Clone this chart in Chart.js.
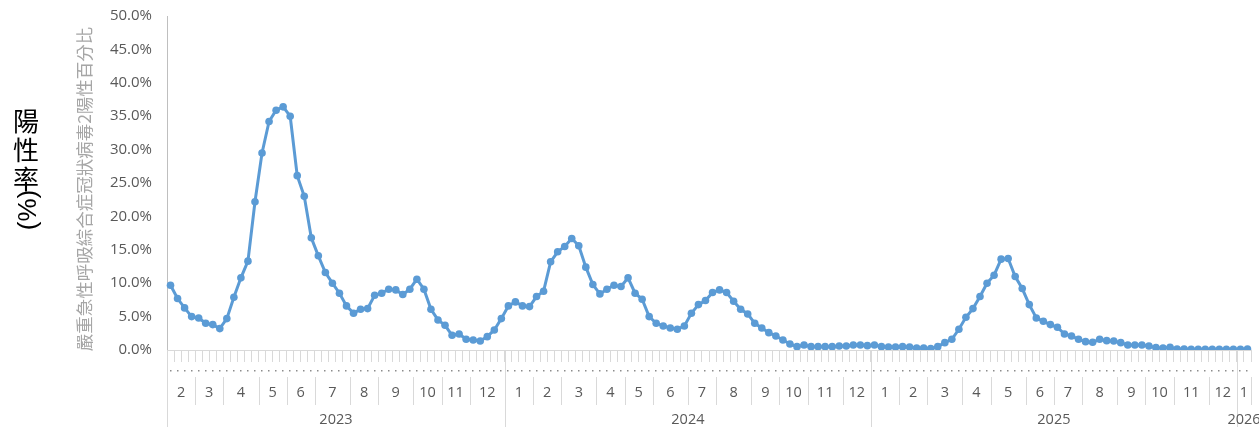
<!DOCTYPE html>
<html>
<head>
<meta charset="utf-8">
<script src="https://cdn.jsdelivr.net/npm/chart.js@4"></script>
<style>
  html, body { margin: 0; padding: 0; background: #fff; }
  #wrap { width: 1259px; height: 427px; }
</style>
</head>
<body>
<div id="wrap"><canvas id="chart" width="1259" height="427"></canvas></div>
<script>
// 月份標籤 / 每月週數 (週結束於星期六)
const monthNames = ['2','3','4','5','6','7','8','9','10','11','12',
                    '1','2','3','4','5','6','7','8','9','10','11','12',
                    '1','2','3','4','5','6','7','8','9','10','11','12',
                    '1'];
const monthWeeks = [4,4,5,4,4,5,4,5,4,4,5,
                    4,4,5,4,4,5,4,5,4,4,5,4,
                    4,4,5,4,5,4,4,5,4,4,5,4,
                    2];
const yearNames = ['2023','2024','2025','2026'];
const yearWeeks = [48, 52, 52, 2];

// 陽性百分比 (%)
const positivity = [
  9.7, 7.7, 6.3, 5.0, 4.8, 4.0, 3.8, 3.2, 4.7, 7.9,
  10.8, 13.3, 22.2, 29.5, 34.2, 35.9, 36.4, 35.0, 26.1, 23.0,
  16.8, 14.1, 11.6, 10.0, 8.5, 6.6, 5.5, 6.1, 6.2, 8.2,
  8.5, 9.1, 9.0, 8.3, 9.1, 10.6, 9.1, 6.1, 4.5, 3.7,
  2.2, 2.4, 1.6, 1.5, 1.35, 2.0, 3.0, 4.7, 6.6, 7.2,
  6.6, 6.5, 8.0, 8.8, 13.2, 14.7, 15.5, 16.7, 15.6, 12.4,
  9.8, 8.4, 9.1, 9.7, 9.5, 10.8, 8.5, 7.6, 5.0, 4.0,
  3.6, 3.3, 3.1, 3.6, 5.5, 6.8, 7.4, 8.6, 9.0, 8.6,
  7.3, 6.1, 5.4, 4.0, 3.3, 2.6, 2.1, 1.5, 0.9, 0.5,
  0.75, 0.5, 0.5, 0.5, 0.5, 0.6, 0.6, 0.75, 0.75, 0.65,
  0.75, 0.5, 0.45, 0.45, 0.5, 0.45, 0.3, 0.3, 0.2, 0.5,
  1.1, 1.6, 3.1, 4.9, 6.2, 8.0, 10.0, 11.2, 13.6, 13.7,
  11.0, 9.2, 6.8, 4.8, 4.3, 3.8, 3.4, 2.4, 2.1, 1.6,
  1.25, 1.15, 1.6, 1.4, 1.35, 1.1, 0.75, 0.75, 0.75, 0.6,
  0.35, 0.3, 0.4, 0.15, 0.15, 0.1, 0.1, 0.1, 0.1, 0.1,
  0.1, 0.1, 0.1, 0.15
];

const yTitle = '嚴重急性呼吸綜合症冠狀病毒2陽性百分比';
const sideTitle = ['陽', '性', '率'];
const sideUnit = '(%)';

// 週類別 (年-月-週序)
const weekLabels = [];
(function () {
  let y = 0, left = yearWeeks[0];
  monthNames.forEach((m, mi) => {
    for (let k = 1; k <= monthWeeks[mi]; k++) {
      weekLabels.push(yearNames[y] + '-' + m + '-' + k);
      left--;
      if (left === 0 && y < yearWeeks.length - 1) { y++; left = yearWeeks[y]; }
    }
  });
})();

const GRAY = '#595959';
const LINE = '#d9d9d9';

// 多層類別軸 (週點、月、年) 與縱軸標題
const axisPlugin = {
  id: 'axisPlugin',
  afterDraw(chart) {
    const ctx = chart.ctx;
    const x = chart.scales.x;
    const bottom = chart.chartArea.bottom;
    const step = x.getPixelForValue(1) - x.getPixelForValue(0);
    const edge = i => x.getPixelForValue(i) - step / 2;

    ctx.save();
    // 週層：每類別一個小點
    ctx.fillStyle = '#8c8c8c';
    weekLabels.forEach((w, i) => {
      ctx.fillRect(Math.round(x.getPixelForValue(i)) - 1, 370, 1.5, 1.5);
    });

    ctx.strokeStyle = LINE;
    ctx.lineWidth = 1;
    ctx.font = '14.5px "Open Sans"';
    ctx.fillStyle = GRAY;
    ctx.textAlign = 'center';
    ctx.textBaseline = 'middle';

    // 月層
    let idx = 0;
    monthNames.forEach((m, mi) => {
      const a = edge(idx), b = edge(idx + monthWeeks[mi]);
      ctx.beginPath();
      ctx.moveTo(Math.round(a) + 0.5, 377);
      ctx.lineTo(Math.round(a) + 0.5, 405);
      ctx.moveTo(Math.round(b) + 0.5, 377);
      ctx.lineTo(Math.round(b) + 0.5, 405);
      ctx.stroke();
      ctx.fillText(m, (a + b) / 2, 393);
      idx += monthWeeks[mi];
    });

    // 年層
    idx = 0;
    yearNames.forEach((yname, yi) => {
      const a = edge(idx), b = edge(idx + yearWeeks[yi]);
      ctx.beginPath();
      ctx.moveTo(Math.round(a) + 0.5, bottom);
      ctx.lineTo(Math.round(a) + 0.5, 427);
      ctx.stroke();
      ctx.fillText(yname, (a + b) / 2, 420);
      idx += yearWeeks[yi];
    });

    // 灰色縱軸標題
    ctx.save();
    ctx.translate(84, 189);
    ctx.rotate(-Math.PI / 2);
    ctx.font = '17.5px "Noto Sans CJK TC"';
    ctx.fillStyle = '#a6a6a6';
    ctx.fillText(yTitle, 0, 0);
    ctx.restore();

    // 黑色標題 陽性率(%)
    ctx.fillStyle = '#000';
    ctx.font = '26px "Noto Sans CJK TC"';
    sideTitle.forEach((c, i) => ctx.fillText(c, 26, 121 + i * 29));
    ctx.save();
    ctx.translate(29, 210);
    ctx.rotate(-Math.PI / 2);
    ctx.font = '26px "Liberation Sans"';
    ctx.fillText(sideUnit, 0, 0);
    ctx.restore();

    ctx.restore();
  }
};

new Chart(document.getElementById('chart'), {
  type: 'line',
  data: {
    labels: weekLabels,
    datasets: [{
      data: positivity,
      borderColor: '#5b9bd5',
      backgroundColor: '#5b9bd5',
      borderWidth: 3,
      pointRadius: 3.8,
      pointBorderWidth: 0,
      pointBackgroundColor: '#5b9bd5',
      tension: 0
    }]
  },
  options: {
    responsive: false,
    animation: false,
    devicePixelRatio: 1,
    layout: { padding: { top: 16, right: 8, left: 0, bottom: 0 } },
    plugins: { legend: { display: false }, tooltip: { enabled: false } },
    scales: {
      x: {
        type: 'category',
        offset: true,
        grid: { display: true, offset: true, drawOnChartArea: false, drawTicks: true, tickLength: 12, color: LINE },
        border: { display: true, color: LINE },
        ticks: { display: false, autoSkip: false },
        afterFit: s => { s.height = 77; }
      },
      y: {
        min: 0,
        max: 50,
        grid: { display: false, drawTicks: false },
        border: { display: true, color: '#bfbfbf' },
        ticks: {
          stepSize: 5,
          padding: 15,
          color: GRAY,
          font: { family: '"Open Sans"', size: 15 },
          callback: v => v.toFixed(1) + '%'
        },
        afterFit: s => { s.width = 167; s.paddingTop = 0; s.paddingBottom = 0; }
      }
    }
  },
  plugins: [axisPlugin]
});
</script>
</body>
</html>
